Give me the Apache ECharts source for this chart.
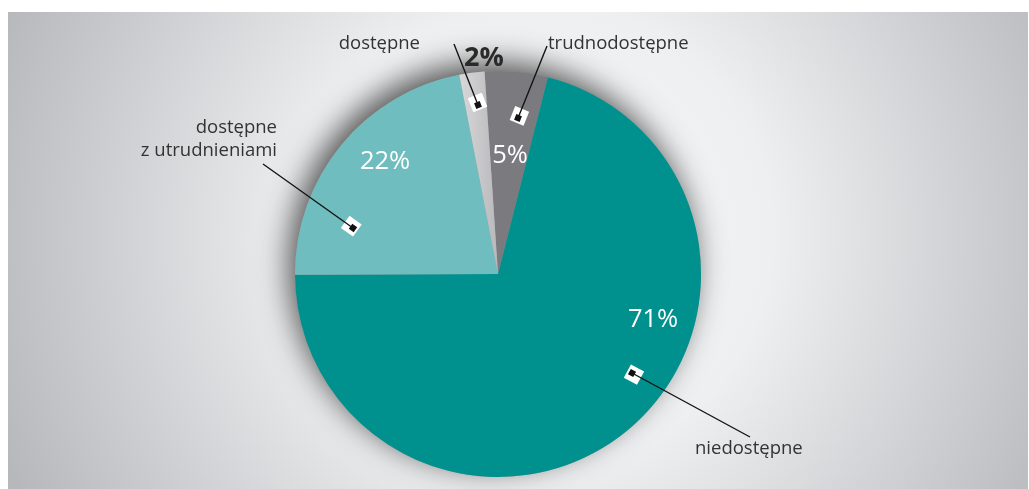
<!DOCTYPE html>
<html>
<head>
<meta charset="utf-8">
<script src="https://cdn.jsdelivr.net/npm/echarts@6/dist/echarts.min.js"></script>
<style>
html,body{margin:0;padding:0;background:#fff;}
#chart{width:1029px;height:489px;}
</style>
</head>
<body>
<div id="chart"></div>
<script>
// ---- data ----
const categories = ['trudnodostępne', 'niedostępne', 'dostępne z utrudnieniami', 'dostępne'];
const displayNames = ['trudnodostępne', 'niedostępne', 'dostępne\nz utrudnieniami', 'dostępne'];
const values = [5, 71, 22, 2];
const sliceColors = ['#7b7b7f', '#00918f', '#6fbdbe', null];

// ---- layout (pixels) ----
const CX = 498, CY = 274, R = 203;
// marker (leader-line start) and label anchors for name labels
const markerPts = [[518, 118], [632, 373], [353, 228], [478, 105]];
const lineEnds = [[547, 46], [750, 437], [263, 164], [454, 44]];
const nameAnchors = [
  {x: 548, y: 44, align: 'left'},
  {x: 695, y: 449, align: 'left'},
  {x: 277, y: 139, align: 'right'},
  {x: 420, y: 44, align: 'right'}
];
const pctAnchors = [[510, 156], [653, 320], [385, 162], [484, 58]];

const chart = echarts.init(document.getElementById('chart'));

const lightGrey = {
  type: 'linear', x: 0, y: 0, x2: 1, y2: 0,
  colorStops: [{offset: 0, color: '#d8d8da'}, {offset: 1, color: '#b9b9bc'}]
};

const pieData = categories.map((c, i) => ({
  name: c,
  value: values[i],
  itemStyle: {color: sliceColors[i] || lightGrey}
}));

// leader lines and markers as graphics (on top layer)
const leaderGraphics = [];
markerPts.forEach((p, i) => {
  const e = lineEnds[i];
  const ang = Math.atan2(e[1] - p[1], e[0] - p[0]);
  leaderGraphics.push({
    type: 'group', zlevel: 1, z: 20,
    x: p[0], y: p[1],
    rotation: -ang,
    children: [
      {type: 'rect', z: 20, shape: {x: -5, y: -7, width: 15, height: 15}, style: {fill: '#ffffff'}},
      {type: 'rect', z: 21, shape: {x: -3, y: -3, width: 6, height: 6}, style: {fill: '#111111'}}
    ]
  });
  leaderGraphics.push({
    type: 'polyline', zlevel: 1, z: 30,
    shape: {points: [p, e]},
    style: {stroke: '#141414', lineWidth: 1.4, fill: null}
  });
});

const option = {
  animation: false,
  graphic: {
    elements: [
      {
        type: 'rect', z: -10,
        shape: {x: 8, y: 12, width: 1020, height: 477},
        style: {
          fill: {
            type: 'radial', x: 540, y: 235, r: 580, global: true,
            colorStops: [
              {offset: 0, color: '#f5f6f7'},
              {offset: 0.4, color: '#eeeff0'},
              {offset: 1, color: '#b7b8bc'}
            ]
          }
        }
      }
    ].concat(leaderGraphics)
  },
  series: [
    {
      // shadow disc
      type: 'pie', silent: true, z: 1,
      center: [CX, CY], radius: R,
      startAngle: 93.8,
      label: {show: false}, labelLine: {show: false},
      itemStyle: {
        color: '#9a9a9e',
        shadowBlur: 30, shadowColor: 'rgba(0,0,0,0.65)',
        shadowOffsetX: -6, shadowOffsetY: -9
      },
      data: [{value: 1, name: 'shadow'}]
    },
    {
      type: 'pie', z: 2,
      center: [CX, CY], radius: R,
      startAngle: 93.8, clockwise: true,
      avoidLabelOverlap: false,
      itemStyle: {borderWidth: 0},
      label: {
        show: true, position: 'outside',
        formatter: p => displayNames[p.dataIndex],
        fontFamily: 'Open Sans', fontSize: 18.5, color: '#333333', lineHeight: 23
      },
      labelLine: {show: false},
      labelLayout: function (params) {
        const a = nameAnchors[params.dataIndex];
        return {x: a.x, y: a.y, align: a.align, verticalAlign: 'middle'};
      },
      emphasis: {disabled: true},
      data: pieData
    },
    {
      type: 'pie', z: 3, silent: true,
      center: [CX, CY], radius: R,
      startAngle: 93.8,
      itemStyle: {color: 'rgba(0,0,0,0)'},
      label: {
        show: true, position: 'inside',
        formatter: p => values[p.dataIndex] + '%',
        fontFamily: 'Open Sans', fontSize: 25.5, color: '#ffffff'
      },
      labelLine: {show: false},
      labelLayout: function (params) {
        const i = params.dataIndex;
        return {x: pctAnchors[i][0], y: pctAnchors[i][1], align: 'center', verticalAlign: 'middle'};
      },
      emphasis: {disabled: true},
      data: categories.map((c, i) => ({
        name: c, value: values[i],
        label: i === 3 ? {color: '#2a2a2a', fontWeight: 'bold', fontSize: 27, position: 'outside'} : undefined
      }))
    }
  ]
};
chart.setOption(option);
</script>
</body>
</html>
